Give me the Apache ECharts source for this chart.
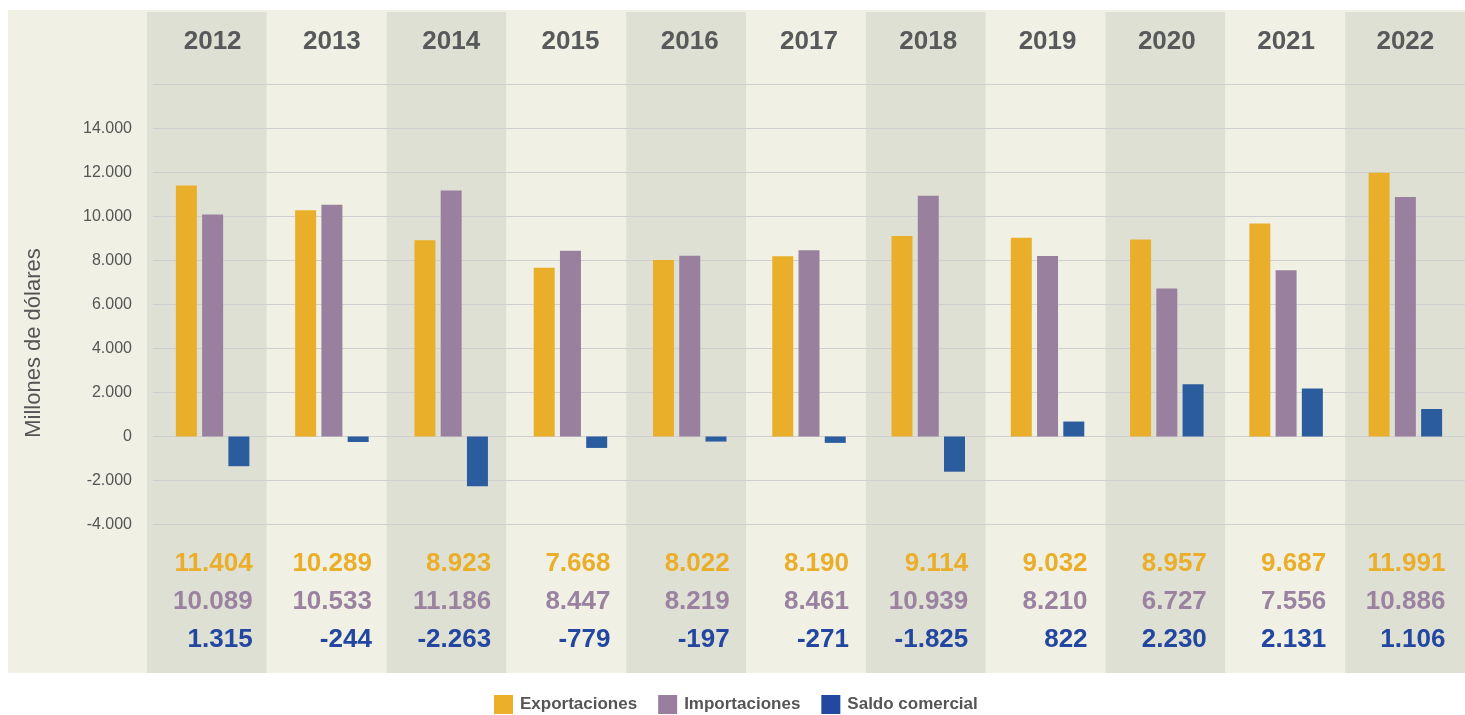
<!DOCTYPE html>
<html>
<head>
<meta charset="utf-8">
<title>Balanza comercial 2012-2022</title>
<script src="https://cdn.jsdelivr.net/npm/echarts@6/dist/echarts.min.js"></script>
<style>
  html, body { margin: 0; padding: 0; background: #fff; }
  #chart { width: 1465px; height: 715px; }
</style>
</head>
<body>
<div id="chart"></div>
<script>
// datos (millones de dólares)
var years = ['2012', '2013', '2014', '2015', '2016', '2017', '2018', '2019', '2020', '2021', '2022'];
var exportaciones = [11404, 10289, 8923, 7668, 8022, 8190, 9114, 9032, 8957, 9687, 11991];
var importaciones = [10089, 10533, 11186, 8447, 8219, 8461, 10939, 8210, 6727, 7556, 10886];
var saldo = [1315, -244, -2263, -779, -197, -271, -1825, 822, 2230, 2131, 1106];
// las barras azules del gráfico no siguen exactamente la tabla
var saldoBarras = [-1350, -250, -2260, -520, -230, -290, -1600, 680, 2380, 2180, 1250];

var FONT = '"Liberation Sans", Arial, Helvetica, sans-serif';
var C_EXP = '#eaaf2a', C_IMP = '#98809e', C_SAL = '#2b5c9e';

function fmt(n) {
  var s = Math.abs(n).toString().replace(/\B(?=(\d{3})+(?!\d))/g, '.');
  return (n < 0 ? '-' : '') + s;
}

var myChart = echarts.init(document.getElementById('chart'));

var tokenStyle = function (color) {
  return { color: color, fontFamily: FONT, fontSize: 26, fontWeight: 'bold', width: 80, align: 'right', lineHeight: 38 };
};

var option = {
  backgroundColor: '#ffffff',
  animation: false,
  textStyle: { fontFamily: FONT },
  grid: [
    // fondo beige
    { left: 8, top: 10, right: 0, bottom: 42, show: true, backgroundColor: '#f0f1e4', borderWidth: 0 },
    // columnas alternas
    { left: 147, top: 12, right: 0, bottom: 42 },
    // gráfico
    { left: 153, top: 84.5, right: -6, bottom: 190.5 }
  ],
  xAxis: [
    { gridIndex: 0, show: false, type: 'category', data: years },
    {
      gridIndex: 1, type: 'category', data: years,
      axisLine: { show: false }, axisTick: { show: false }, axisLabel: { show: false },
      splitLine: { show: false },
      splitArea: { show: true, interval: 0, areaStyle: { color: ['#dfe0d4', '#f0f1e4'] } }
    },
    {
      gridIndex: 2, type: 'category', data: years, position: 'bottom',
      axisLine: { show: false }, axisTick: { show: false },
      axisLabel: {
        interval: 0, margin: 20,
        formatter: function (v, i) {
          return '{e|' + fmt(exportaciones[i]) + '}\n{i|' + fmt(importaciones[i]) + '}\n{s|' + fmt(saldo[i]) + '}';
        },
        rich: {
          e: tokenStyle('#eaae2a'),
          i: tokenStyle('#9a82a0'),
          s: tokenStyle('#2346a0')
        }
      }
    },
    {
      gridIndex: 2, type: 'category', data: years, position: 'top',
      axisLine: { show: false }, axisTick: { show: false },
      axisLabel: { interval: 0, margin: 30, fontSize: 26, fontWeight: 'bold', color: '#58595b', fontFamily: FONT }
    }
  ],
  yAxis: [
    { gridIndex: 0, show: false, type: 'value' },
    { gridIndex: 1, show: false, type: 'value' },
    {
      gridIndex: 2, type: 'value', min: -4000, max: 16000, interval: 2000, z: 3,
      axisLine: { show: false }, axisTick: { show: false },
      splitLine: { lineStyle: { color: '#cfcfd2', width: 1 } },
      axisLabel: {
        margin: 21, fontSize: 16, color: '#555555', fontFamily: FONT,
        formatter: function (v) { return v >= 16000 ? '' : fmt(v); }
      }
    }
  ],
  legend: {
    left: 494, top: 695, padding: 0,
    icon: 'rect', itemWidth: 19, itemHeight: 19, itemGap: 21,
    textStyle: { fontFamily: FONT, fontSize: 17, fontWeight: 'bold', color: '#555555', padding: [0, 0, 0, 2] },
    data: [
      { name: 'Exportaciones', itemStyle: { color: '#ebaf2a' } },
      { name: 'Importaciones', itemStyle: { color: '#9a7e9e' } },
      { name: 'Saldo comercial', itemStyle: { color: '#2248a0' } }
    ]
  },
  graphic: [
    {
      type: 'text', x: 34, y: 343, rotation: Math.PI / 2,
      style: { text: 'Millones de dólares', fill: '#555555', font: '22px ' + FONT, align: 'center', verticalAlign: 'middle' }
    }
  ],
  series: [
    {
      name: 'Exportaciones', type: 'bar', xAxisIndex: 2, yAxisIndex: 2, z: 4,
      barWidth: 21, barGap: '25%', itemStyle: { color: C_EXP }, data: exportaciones
    },
    {
      name: 'Importaciones', type: 'bar', xAxisIndex: 2, yAxisIndex: 2, z: 4,
      barWidth: 21, barGap: '25%', itemStyle: { color: C_IMP }, data: importaciones
    },
    {
      name: 'Saldo comercial', type: 'bar', xAxisIndex: 2, yAxisIndex: 2, z: 4,
      barWidth: 21, barGap: '25%', itemStyle: { color: C_SAL }, data: saldoBarras
    }
  ]
};

myChart.setOption(option);
</script>
</body>
</html>
